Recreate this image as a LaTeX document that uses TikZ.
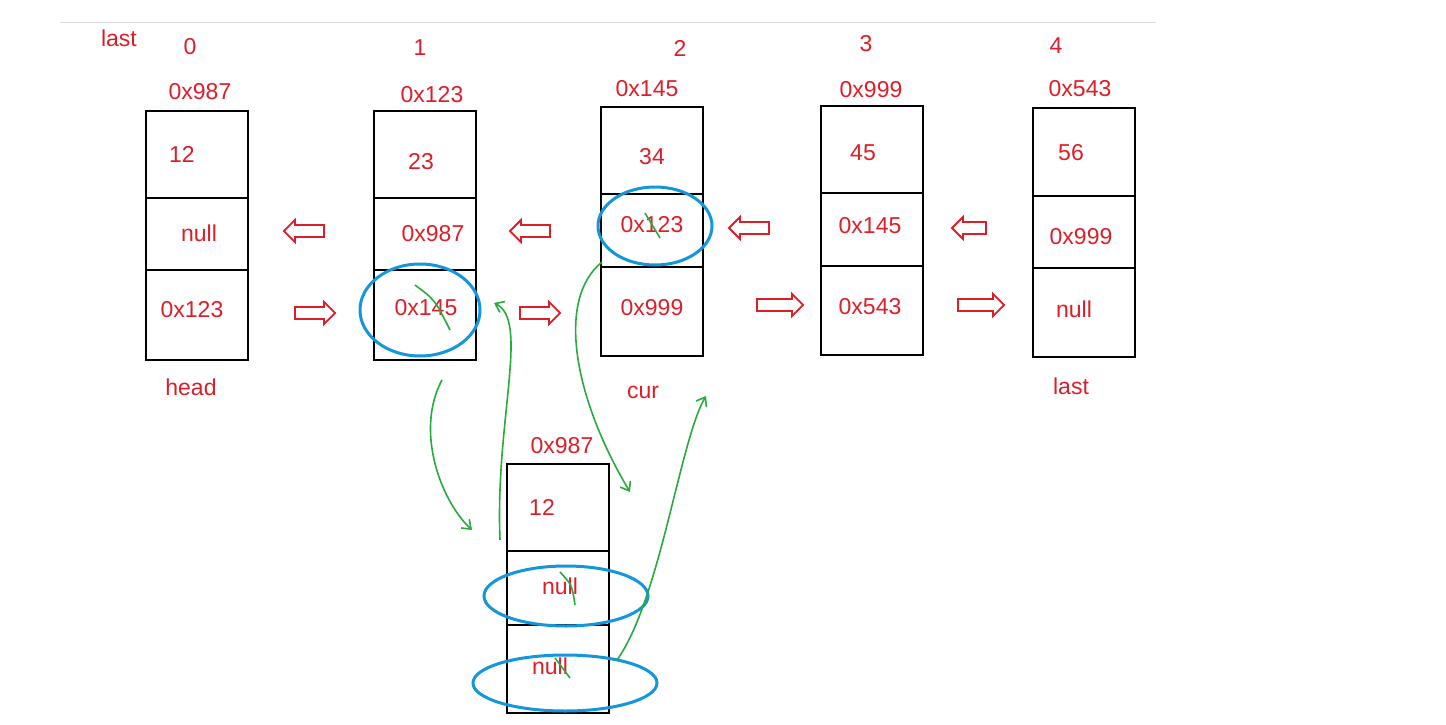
\documentclass[tikz,border=0pt]{standalone}
\usepackage{fontspec}
\setmainfont{Liberation Sans}
\usetikzlibrary{shapes.arrows,shapes.geometric,arrows.meta}
\definecolor{rd}{RGB}{220,30,40}
\definecolor{bl}{RGB}{20,150,220}
\definecolor{gr}{RGB}{40,170,60}
\begin{document}
\begin{tikzpicture}[x=1pt,y=-1pt,
 lbl/.style={text=rd,font=\fontsize{23}{27}\selectfont,inner sep=0},
 box/.style={draw=black,line width=2pt},
 la/.style={single arrow,draw=rd,line width=1.8pt,minimum height=40,minimum width=22,single arrow head extend=4pt,inner sep=4pt,text height=0pt,text depth=0pt},
 ell/.style={draw=bl,line width=3pt},
 gc/.style={draw=gr,line width=1.6pt,-{Straight Barb[length=8pt,width=12pt]}}]
\useasboundingbox (0,0) rectangle (1446,725);
\draw[gray!30] (60,22) -- (1156,22);
% boxes
\foreach \n/\x/\t/\a/\b/\bt in {b0/146/111/198/270/360,b1/374/111/198/270/360,b2/601/107/194/267/356,b3/821/106/193/266/355,b4/1033/108/196/268/357,bb/507/464/551/625/713}{
 \draw[box] (\x,\t) rectangle ++(102,\bt-\t);
 \draw[box] (\x,\a) -- ++(102,0);
 \draw[box] (\x,\b) -- ++(102,0);
}
% texts
\node[lbl] (t0) at (200,92) {0x987};
\node[lbl] (t1) at (432,95) {0x123};
\node[lbl] (t2) at (647,89) {0x145};
\node[lbl] (t3) at (871,90) {0x999};
\node[lbl] (t4) at (1080,89) {0x543};
\node[lbl] (tb) at (562,446) {0x987};
\node[lbl] at (182,154) {12};
\node[lbl] at (199,233) {null};
\node[lbl] at (192,310) {0x123};
\node[lbl] at (421,162) {23};
\node[lbl] at (433,234) {0x987};
\node[lbl] at (426,308) {0x145};
\node[lbl] at (652,157) {34};
\node[lbl] at (652,225) {0x123};
\node[lbl] at (652,308) {0x999};
\node[lbl] at (863,153) {45};
\node[lbl] at (870,226) {0x145};
\node[lbl] at (870,307) {0x543};
\node[lbl] at (1071,153) {56};
\node[lbl] at (1081,237) {0x999};
\node[lbl] at (1074,309) {null};
\node[lbl] at (542,507) {12};
\node[lbl] at (560,586) {null};
\node[lbl] at (550,666) {null};
\node[lbl] at (191,387) {head};
\node[lbl] at (643,392) {cur};
\node[lbl] at (1071,386) {last};
\node[lbl] at (119,38) {last};
\node[lbl] at (190,47) {0};
\node[lbl] at (420,48) {1};
\node[lbl] at (680,48) {2};
\node[lbl] at (866,44) {3};
\node[lbl] at (1056,46) {4};
% hollow arrows
\node[la,shape border rotate=180] (l1) at (307,231) {};
\node[la,shape border rotate=180] (l2) at (533,231) {};
\node[la,shape border rotate=180] (l3) at (752,228) {};
\node[la,shape border rotate=180,minimum height=34] (l4) at (972,228) {};
\node[la] (r1) at (312,313) {};
\node[la] (r2) at (537,313) {};
\node[la,minimum height=46] (r3) at (777,305) {};
\node[la,minimum height=46] (r4) at (978,305) {};
% blue ellipses
\draw[ell] (420,310) ellipse [x radius=60,y radius=46];
\draw[ell] (655,226) ellipse [x radius=57,y radius=39];
\draw[ell] (566,596) ellipse [x radius=82,y radius=30];
\draw[ell] (565,683) ellipse [x radius=92,y radius=28];
% green ticks
\draw[gr,line width=1.6pt] (415,285) .. controls (435,300) .. (450,330);
\draw[gr,line width=1.6pt] (645,213) -- (660,238);
\draw[gr,line width=1.6pt] (560,572) .. controls (572,585) .. (575,605);
\draw[gr,line width=1.6pt] (555,658) -- (570,678);
% green curves
\coordinate (g1a) at (442,380); \coordinate (g1b) at (472,530);
\draw[gc] (g1a) .. controls (415,430) and (440,500) .. (g1b);
\coordinate (g2a) at (500,540); \coordinate (g2b) at (494,303);
\draw[gc] (g2a) .. controls (495,420) and (530,320) .. (g2b);
\coordinate (g3a) at (602,262); \coordinate (g3b) at (630,492);
\draw[gc] (g3a) .. controls (555,300) and (575,400) .. (g3b);
\coordinate (g4a) at (617,660); \coordinate (g4b) at (706,396);
\draw[gc] (g4a) .. controls (660,600) and (680,440) .. (g4b);
\end{tikzpicture}
\end{document}
